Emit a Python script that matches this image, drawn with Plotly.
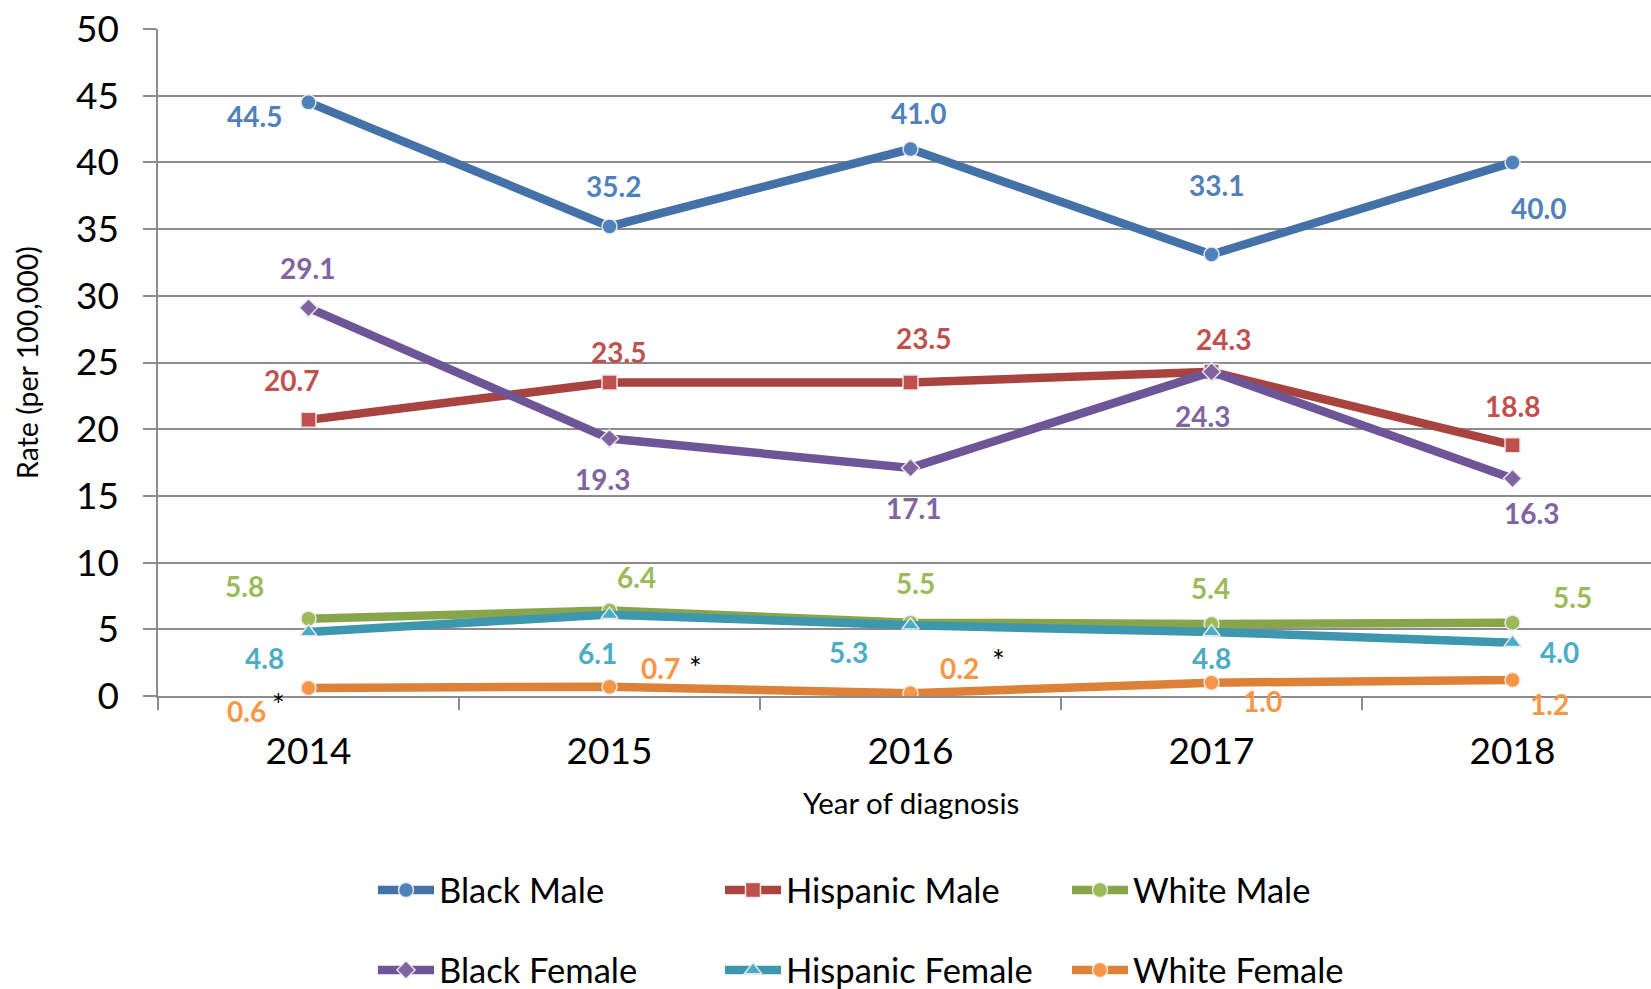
import plotly.graph_objects as go

years = ["2014", "2015", "2016", "2017", "2018"]

series_names = ["Black Male", "Hispanic Male", "White Male",
                "Black Female", "Hispanic Female", "White Female"]

black_male = [44.5, 35.2, 41.0, 33.1, 40.0]
hispanic_male = [20.7, 23.5, 23.5, 24.3, 18.8]
white_male = [5.8, 6.4, 5.5, 5.4, 5.5]
black_female = [29.1, 19.3, 17.1, 24.3, 16.3]
hispanic_female = [4.8, 6.1, 5.3, 4.8, 4.0]
white_female = [0.6, 0.7, 0.2, 1.0, 1.2]

# values flagged with an asterisk (White Female)
asterisk_years = ["2014", "2015", "2016"]

values = [black_male, hispanic_male, white_male,
          black_female, hispanic_female, white_female]

x_title = "Year of diagnosis"
y_title = "Rate (per 100,000)"

# styles
line_colors = ["#4471A7", "#A9433F", "#87A54A", "#6E5597", "#3D97AF", "#DD8139"]
marker_colors = ["#4F81BD", "#C0504D", "#9BBB59", "#8064A2", "#4BACC6", "#F79646"]
symbols = ["circle", "square", "circle", "diamond", "triangle-up", "circle"]
legend_ids = ["legend", "legend", "legend", "legend2", "legend2", "legend2"]

# label offsets (xshift, yshift) in px per series/point
label_offsets = [
    [(-54, -14), (4, 40), (8, 36), (5, 69), (26, -46)],
    [(-17, 40), (9, 31), (13, 45), (12, 33), (0, 39)],
    [(-64, 33), (27, 34), (5, 40), (-1, 36), (60, 26)],
    [(-1, 40), (-7, -40), (3, -40), (-9, -44), (19, -34)],
    [(-44, -26), (-12, -38), (-62, -27), (0, -26), (47, -9)],
    [(-62, -23), (51, 19), (49, 25), (51, -18), (37, -24)],
]
asterisk_offsets = [(-30, -16), (86, 20), (88, 33)]

FONT = "Lato"

fig = go.Figure()
for i, name in enumerate(series_names):
    fig.add_trace(go.Scatter(
        x=years, y=values[i], name=name, mode="lines+markers",
        line=dict(color=line_colors[i], width=8.5),
        marker=dict(symbol=symbols[i], size=15 if symbols[i] != "diamond" else 14,
                    color=marker_colors[i],
                    line=dict(color="rgba(235,235,235,0.95)", width=1.5)),
        legend=legend_ids[i],
    ))

# category index of each year on the category axis
cat_index = {yr: k for k, yr in enumerate(years)}

annotations = []
for i, vals in enumerate(values):
    for j, v in enumerate(vals):
        dx, dy = label_offsets[i][j]
        annotations.append(dict(
            x=cat_index[years[j]], y=v, xref="x", yref="y", text="<b>%.1f</b>" % v,
            showarrow=False, xshift=dx, yshift=dy,
            font=dict(family=FONT, size=28, color=marker_colors[i]),
        ))

wf_lookup = dict(zip(years, white_female))
for k, yr in enumerate(asterisk_years):
    dx, dy = asterisk_offsets[k]
    annotations.append(dict(
        x=cat_index[yr], y=wf_lookup[yr], xref="x", yref="y", text="*",
        showarrow=False, xshift=dx, yshift=dy,
        font=dict(family=FONT, size=30, color="black"),
    ))

# x-axis title centred under the full category span
annotations.append(dict(
    x=2.0, y=0, xref="x", yref="paper", text=x_title, showarrow=False,
    yanchor="middle", yshift=-106,
    font=dict(family=FONT, size=29.5, color="black"),
))

fig.update_layout(
    template="none",
    width=1651, height=989,
    margin=dict(l=158, r=0, t=29, b=293, autoexpand=False),
    paper_bgcolor="white", plot_bgcolor="white",
    font=dict(family=FONT, color="black"),
    annotations=annotations,
    showlegend=True,
    legend=dict(orientation="h", xref="container", yref="container",
                x=373 / 1651, y=1 - 890 / 989, xanchor="left", yanchor="middle",
                font=dict(family=FONT, size=34.5, color="black"),
                entrywidth=276, itemwidth=56, bgcolor="rgba(0,0,0,0)"),
    legend2=dict(orientation="h", xref="container", yref="container",
                 x=373 / 1651, y=1 - 970 / 989, xanchor="left", yanchor="middle",
                 font=dict(family=FONT, size=34.5, color="black"),
                 entrywidth=276, itemwidth=56, bgcolor="rgba(0,0,0,0)"),
    xaxis=dict(
        type="category", range=[-0.5, 4.46], automargin=False,
        showline=True, linecolor="#8C8C8C", linewidth=1.5,
        ticks="outside", tickson="boundaries", ticklen=12, tickcolor="#8C8C8C",
        tickwidth=1.5, showgrid=False, zeroline=False,
        tickfont=dict(family=FONT, size=37, color="black"),
        ticklabelstandoff=22,
    ),
    yaxis=dict(
        range=[0, 50], dtick=5, tick0=0, automargin=False,
        showline=True, linecolor="#8C8C8C", linewidth=1.5,
        showgrid=True, gridcolor="#8C8C8C", gridwidth=1.5,
        zeroline=False,
        ticks="outside", ticklen=13, tickcolor="#8C8C8C", tickwidth=1.5,
        tickfont=dict(family=FONT, size=37, color="black"),
        ticklabelstandoff=17,
        title=dict(text=y_title, font=dict(family=FONT, size=28.5, color="black"),
                   standoff=29),
    ),
)

fig.write_html("out.html", config={"displayModeBar": False},
               post_script="document.body.style.margin='0px';")
